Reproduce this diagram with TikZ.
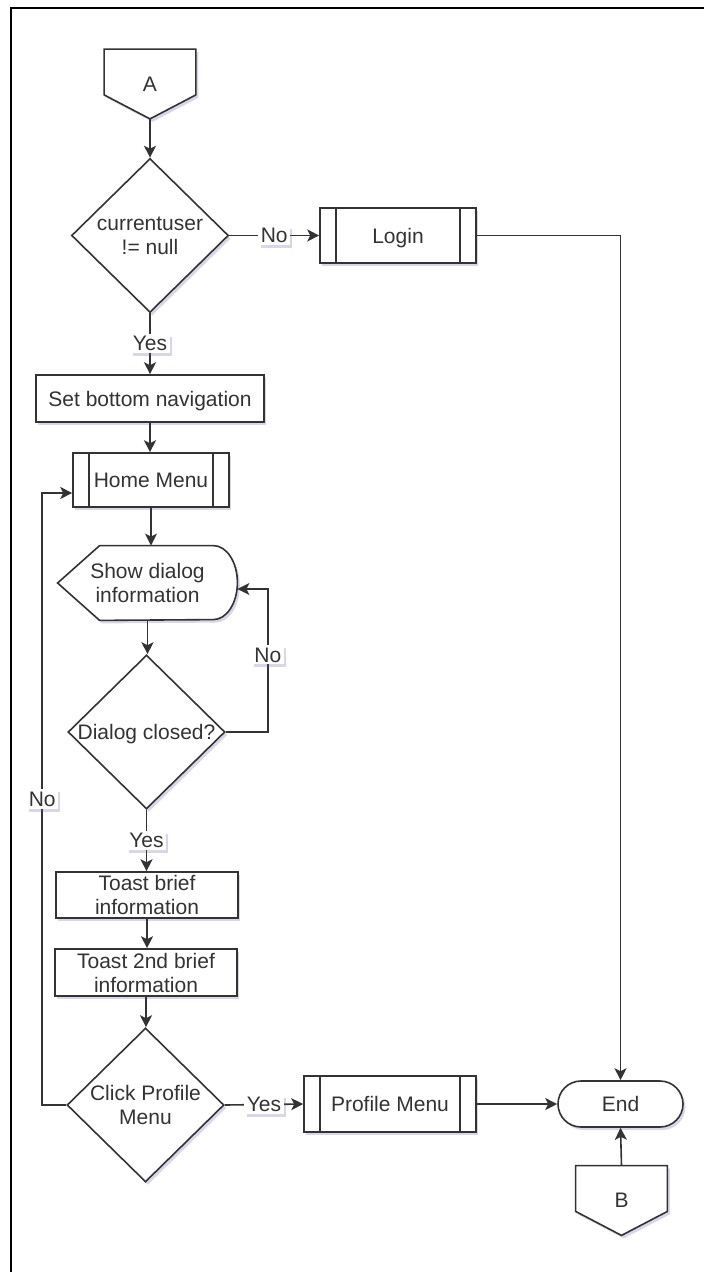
\documentclass[tikz,border=0pt]{standalone}
\usepackage{fontspec}
\setmainfont{Liberation Sans}
\usetikzlibrary{shapes.geometric,arrows.meta,shadows,backgrounds}

\tikzstyle{every node}=[font=\fontsize{10.5}{12}\selectfont, text=black!80, align=center, inner sep=0pt, text depth=0pt]
\tikzstyle{softshadow}=[drop shadow={shadow xshift=1.2pt, shadow yshift=-1.5pt, opacity=0.25, fill=blue!25!gray}]
\tikzstyle{box}=[draw=black!80, line width=0.8pt, fill=white, softshadow]
\tikzstyle{subproc}=[box, path picture={\draw[black!80, line width=0.8pt] ([xshift=8pt]path picture bounding box.north west) -- ([xshift=8pt]path picture bounding box.south west) ([xshift=-8pt]path picture bounding box.north east) -- ([xshift=-8pt]path picture bounding box.south east);}]
\tikzstyle{decision}=[box, diamond, minimum width=78.5pt, minimum height=77pt]
\tikzstyle{term}=[box, rounded corners=11.5pt]
\tikzstyle{ghost}=[draw=none]
\tikzstyle{lbl}=[fill=white, inner sep=1.2pt, softshadow]
\tikzstyle{flow}=[draw=black!80, line width=0.8pt, -{Stealth[length=6pt, width=6pt, inset=1.5pt]}]

\begin{document}
\begin{tikzpicture}[x=0.5pt, y=-0.5pt]
\useasboundingbox (0,0) rectangle (704,1272);
\draw[line width=1.3pt] (11,1272) -- (11,8) -- (704,8);

% main column
\node[ghost, minimum width=45.5pt, minimum height=34.5pt] (A) at (150,84) {A};
\node[decision, label={center:currentuser\\!= null}] (curuser) at (150,235.5) {};
\node[subproc, minimum width=78pt, minimum height=27.5pt] (login) at (398,235.5) {Login};
\node[box, minimum width=114pt, minimum height=23.5pt] (setnav) at (150,398.5) {Set bottom navigation};
\node[subproc, minimum width=78pt, minimum height=27pt] (home) at (151,480) {Home Menu};
\node[ghost, minimum width=89.5pt, minimum height=37pt] (dialog) at (147.5,583) {Show dialog\\information};
\node[decision, label={center:Dialog closed?}] (closed) at (146.5,732) {};
\node[box, minimum width=91pt, minimum height=23pt] (toast) at (147,895) {Toast brief\\information};
\node[box, minimum width=91pt, minimum height=23.5pt] (toast2) at (146,972.5) {Toast 2nd brief\\information};
\node[decision, label={center:Click Profile\\Menu}] (click) at (145.5,1105) {};
% right side
\node[subproc, minimum width=86pt, minimum height=28pt] (profile) at (390,1104) {Profile Menu};
\node[term, minimum width=62.5pt, minimum height=23pt] (end) at (620.5,1104) {End};
\node[ghost, minimum width=45.5pt, minimum height=34.5pt] (B) at (621.5,1200.5) {B};

% off-page connectors and display shape
\begin{pgfonlayer}{background}
\draw[box] (A.north west) -- (A.north east) -- ([yshift=12pt]A.south east) -- (A.south) -- ([yshift=12pt]A.south west) -- cycle;
\draw[box] (B.north west) -- (B.north east) -- ([yshift=12pt]B.south east) -- (B.south) -- ([yshift=12pt]B.south west) -- cycle;
\draw[box] (dialog.west) -- ([xshift=21pt]dialog.north west) -- ([xshift=-12pt]dialog.north east) arc[start angle=90, end angle=-90, x radius=12pt, y radius=18.5pt] -- ([xshift=21pt]dialog.south west) -- cycle;
\end{pgfonlayer}

% connectors
\draw[flow] (A.south) -- (curuser.north);
\draw[flow] (curuser.east) -- node[lbl]{No} (login.west);
\draw[flow] (login.east) -| (end.north);
\draw[flow] (curuser.south) -- node[lbl]{Yes} (setnav.north);
\draw[flow] (setnav.south) -- (setnav.south |- home.north);
\draw[flow] (home.south) -- (home.south |- dialog.north);
\draw[flow] (dialog.south) -- (dialog.south |- closed.north);
\draw[flow] (closed.east) -- ++(21pt,0) |- node[lbl, pos=0.27]{No} ([yshift=-3pt]dialog.east);
\draw[flow] (closed.south) -- node[lbl]{Yes} (closed.south |- toast.north);
\draw[flow] (toast.south) -- (toast.south |- toast2.north);
\draw[flow] (toast2.south) -- (toast2.south |- click.north);
\draw[flow] (click.east) -- node[lbl]{Yes} (profile.west);
\draw[flow] (profile.east) -- (end.west);
\draw[flow] (B.north) -- (end.south);
\draw[flow] (click.west) -- ++(-12pt,0) |- node[lbl, pos=0.25]{No} ([yshift=-6.5pt]home.west);
\end{tikzpicture}
\end{document}
